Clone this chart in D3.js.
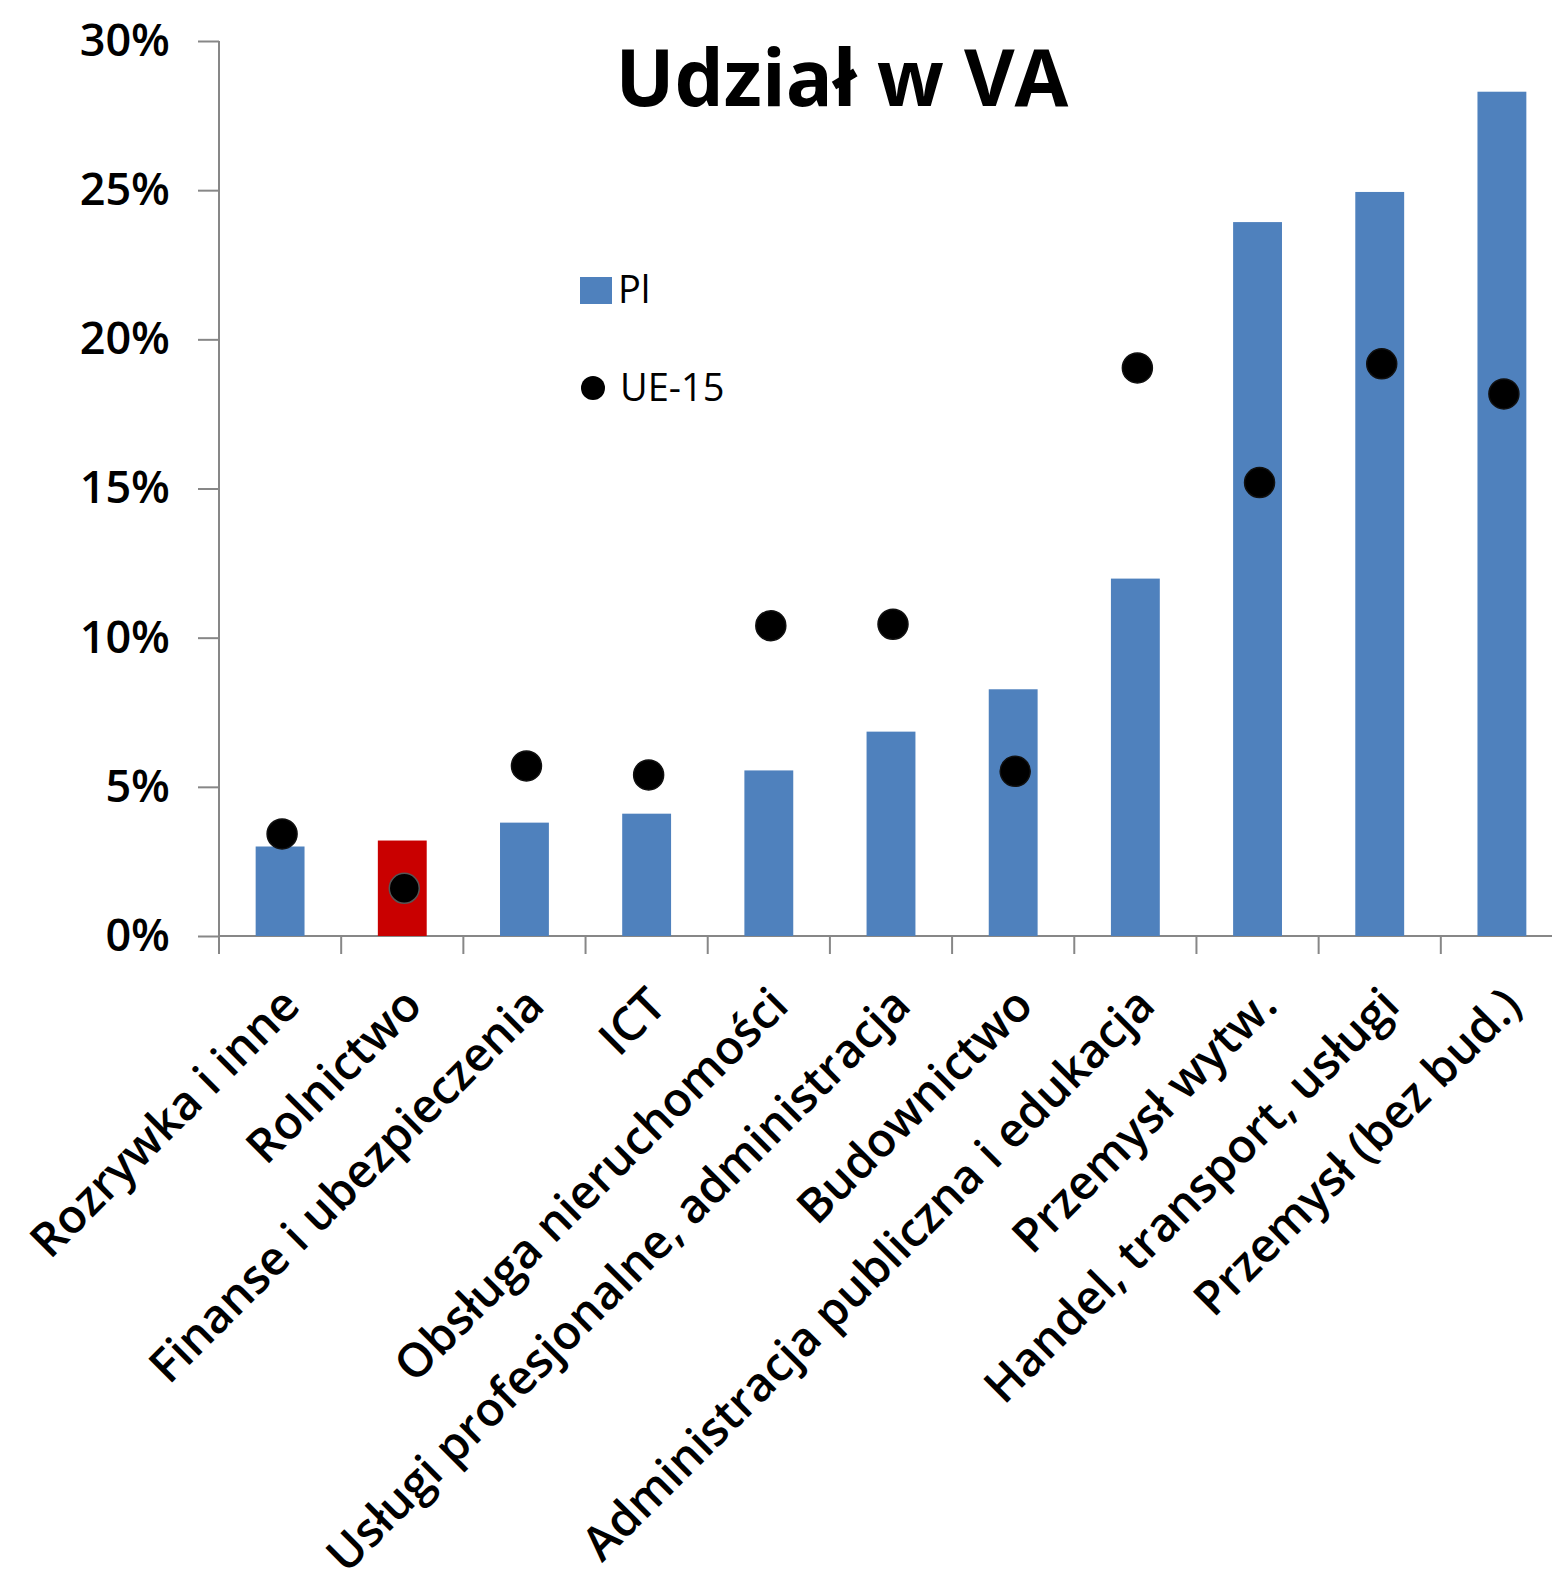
<!DOCTYPE html>
<html>
<head>
<meta charset="utf-8">
<script src="https://cdn.jsdelivr.net/npm/d3@7"></script>
<style>
  html, body { margin: 0; padding: 0; background: #fff; }
  svg { display: block; font-family: "Open Sans", sans-serif; }
</style>
</head>
<body>
<svg id="chart"></svg>
<script>
// data (shares of value added)
const categories = [
  "Rozrywka i inne", "Rolnictwo", "Finanse i ubezpieczenia", "ICT",
  "Obsługa nieruchomości", "Usługi profesjonalne, administracja", "Budownictwo",
  "Administracja publiczna i edukacja", "Przemysł wytw.", "Handel, transport, usługi",
  "Przemysł (bez bud.)"
]
const plValues = [0.030, 0.032, 0.038, 0.041, 0.0555, 0.0685, 0.0827, 0.1198, 0.2393, 0.2494, 0.283]
const ue15Values = [0.0342, 0.016, 0.057, 0.054, 0.104, 0.1045, 0.0552, 0.1904, 0.152, 0.1918, 0.1817]
const yTicks = [0, 0.05, 0.10, 0.15, 0.20, 0.25, 0.30]
const highlighted = "Rolnictwo"

const w = 1552
const h = 1589
const mLeft = 219, mRight = 1563, mTop = 41, mBottom = 936

const svg = d3.select('#chart')
  .attr('width', w)
  .attr('height', h)

const rows = categories.map((c, i) => ({ cat: c, pl: plValues[i], ue: ue15Values[i] }))

// scales
const x = d3.scaleBand()
  .domain(categories)
  .range([mLeft, mRight])
  .paddingInner(0.6)
  .paddingOuter(0.3)

const y = d3.scaleLinear()
  .domain([0, 0.30])
  .range([mBottom, mTop])

const axisColor = '#878787'

// y axis
const yAxis = d3.axisLeft(y)
  .tickValues(yTicks)
  .tickFormat(d3.format('.0%'))
  .tickSize(21)
  .tickPadding(28)
const gy = svg.append('g')
  .attr('transform', `translate(${mLeft},0)`)
  .call(yAxis)
  .attr('font-family', null)
  .attr('font-size', null)
gy.select('.domain').remove()
gy.selectAll('line').attr('stroke', axisColor).attr('stroke-width', 2)
gy.selectAll('text')
  .attr('fill', '#000')
  .style('font-size', '45px')
  .style('font-weight', 600)
svg.append('line')
  .attr('x1', mLeft).attr('x2', mLeft)
  .attr('y1', mTop).attr('y2', mBottom + 18)
  .attr('stroke', axisColor).attr('stroke-width', 2)

// x axis line + boundary ticks
svg.append('line')
  .attr('x1', mLeft).attr('x2', w)
  .attr('y1', mBottom).attr('y2', mBottom)
  .attr('stroke', axisColor).attr('stroke-width', 2)
const step = x.step()
const bounds = categories.map(c => x(c) - step * x.paddingInner() / 2).slice(1)
svg.append('g').selectAll('line')
  .data(bounds)
  .enter()
  .append('line')
    .attr('x1', d => d).attr('x2', d => d)
    .attr('y1', mBottom).attr('y2', mBottom + 18)
    .attr('stroke', axisColor).attr('stroke-width', 2)

// bars
svg.append('g').selectAll('rect')
  .data(rows)
  .enter()
  .append('rect')
    .attr('x', d => x(d.cat))
    .attr('width', x.bandwidth())
    .attr('y', d => y(d.pl))
    .attr('height', d => y(0) - y(d.pl))
    .attr('fill', d => d.cat === highlighted ? '#c90000' : '#4f81bd')

// UE-15 dots
svg.append('g').selectAll('circle')
  .data(rows)
  .enter()
  .append('circle')
    .attr('cx', d => x(d.cat) + x.bandwidth() / 2 + 2)
    .attr('cy', d => y(d.ue))
    .attr('r', 15)
    .attr('fill', '#000')
    .attr('stroke', d => d.cat === highlighted ? '#555' : '#111')
    .attr('stroke-width', 1.5)

// category labels
svg.append('g').selectAll('text')
  .data(categories)
  .enter()
  .append('text')
    .attr('transform', d => `translate(${x(d) + x.bandwidth() / 2 + 22},${mBottom + 72}) rotate(-45)`)
    .attr('text-anchor', 'end')
    .style('font-size', '47px')
    .style('font-weight', 600)
    .text(d => d)

// title
svg.append('text')
  .attr('x', 842)
  .attr('y', 106)
  .attr('text-anchor', 'middle')
  .style('font-size', '78px')
  .style('font-weight', 700)
  .text('Udział w VA')

// legend
svg.append('rect')
  .attr('x', 580).attr('y', 277)
  .attr('width', 32).attr('height', 27)
  .attr('fill', '#4f81bd')
svg.append('text')
  .attr('x', 618).attr('y', 303)
  .style('font-size', '38px')
  .text('Pl')
svg.append('circle')
  .attr('cx', 593).attr('cy', 388)
  .attr('r', 12)
  .attr('fill', '#000')
svg.append('text')
  .attr('x', 620).attr('y', 401)
  .style('font-size', '38px')
  .text('UE-15')
</script>
</body>
</html>
